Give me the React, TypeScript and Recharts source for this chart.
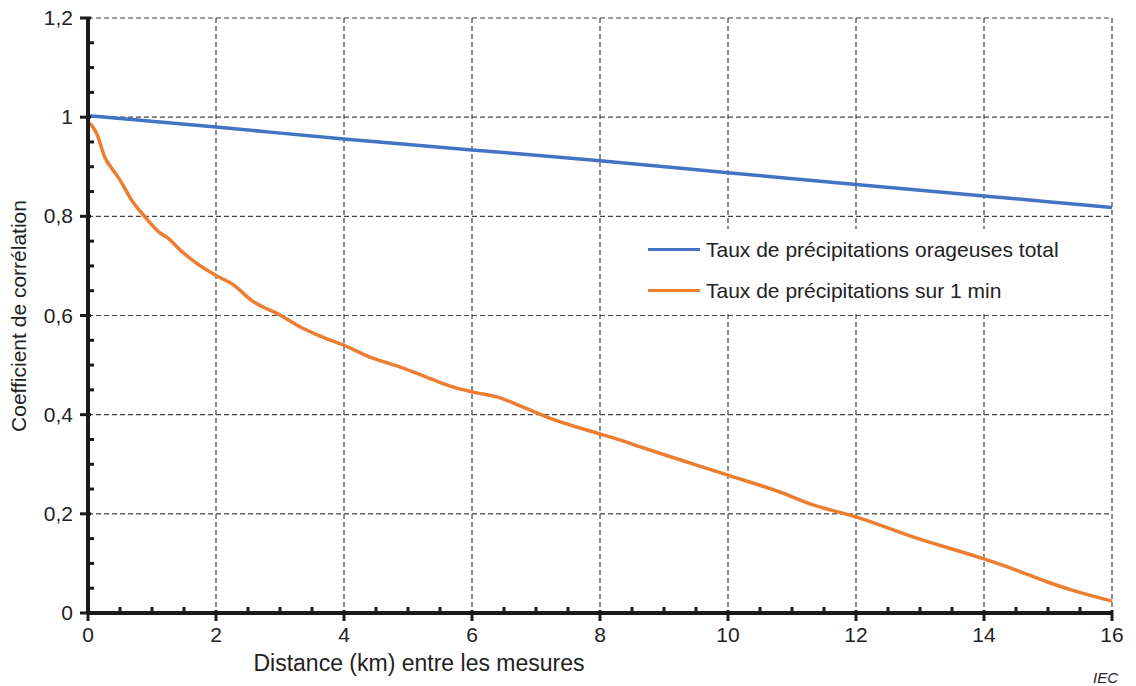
import { LineChart, Line, XAxis, YAxis, CartesianGrid } from "recharts";

const BLUE_KM = [0, 2, 4, 6, 8, 10, 12, 14, 16];
const BLUE_R = [1.003, 0.98, 0.956, 0.934, 0.912, 0.888, 0.864, 0.841, 0.818];

const ORANGE_KM = [
  0.03, 0.135, 0.27, 0.37, 0.5, 0.68, 0.89, 1.1, 1.25, 1.44, 1.7, 1.98, 2.27, 2.56, 3.0, 3.26,
  3.6, 3.98, 4.45, 4.88, 5.4, 5.7, 6.0, 6.44, 6.64, 7.17, 8.0, 8.31, 8.63, 9.25, 10.0, 10.81,
  11.33, 12.0, 12.9, 14.0, 14.45, 14.98, 15.4, 16.0,
];
const ORANGE_R = [
  0.988, 0.967, 0.917, 0.897, 0.873, 0.833, 0.799, 0.769, 0.756, 0.732, 0.705, 0.682, 0.662, 0.63,
  0.601, 0.581, 0.56, 0.541, 0.514, 0.496, 0.47, 0.456, 0.446, 0.434, 0.424, 0.395, 0.361, 0.349,
  0.335, 0.309, 0.278, 0.244, 0.218, 0.194, 0.153, 0.109, 0.089, 0.063, 0.045, 0.024,
];

const X_MAJOR = [0, 2, 4, 6, 8, 10, 12, 14, 16];
const X_MINOR = [
  0.5, 1, 1.5, 2.5, 3, 3.5, 4.5, 5, 5.5, 6.5, 7, 7.5, 8.5, 9, 9.5, 10.5, 11, 11.5, 12.5, 13, 13.5,
  14.5, 15, 15.5,
];
const Y_MAJOR = [0, 0.2, 0.4, 0.6, 0.8, 1, 1.2];
const Y_MINOR = [
  0.05, 0.1, 0.15, 0.25, 0.3, 0.35, 0.45, 0.5, 0.55, 0.65, 0.7, 0.75, 0.85, 0.9, 0.95, 1.05, 1.1,
  1.15,
];

const NAMES = ["Taux de précipitations orageuses total", "Taux de précipitations sur 1 min"];
const COLORS = ["#4472C4", "#ED7D31"];

const blueData = BLUE_KM.map((d, i) => ({ d, r: BLUE_R[i] }));
const orangeData = ORANGE_KM.map((d, i) => ({ d, r: ORANGE_R[i] }));
const xTicks = [...X_MAJOR, ...X_MINOR].sort((a, b) => a - b);
const yTicks = [...Y_MAJOR, ...Y_MINOR].sort((a, b) => a - b);

const FONT = "'Liberation Sans', Arial, sans-serif";
const INK = "#1a1a1a";
const fmt = (v: number) => String(v).replace(".", ",");
const isMajor = (list: number[], v: number) => list.some((m) => Math.abs(m - v) < 1e-9);

const XTick = ({ x, y, payload }: any) =>
  isMajor(X_MAJOR, payload.value) ? (
    <g>
      <line x1={x} x2={x} y1={y - 3} y2={y + 8} stroke={INK} strokeWidth={3} />
      <text x={x} y={y + 29} textAnchor="middle" fontSize={21} fill="#222" fontFamily={FONT}>
        {fmt(payload.value)}
      </text>
    </g>
  ) : (
    <line x1={x} x2={x} y1={y} y2={y - 6} stroke={INK} strokeWidth={3} />
  );

const YTick = ({ x, y, payload }: any) =>
  isMajor(Y_MAJOR, payload.value) ? (
    <g>
      <line x1={x - 8} x2={x + 3} y1={y} y2={y} stroke={INK} strokeWidth={3} />
      <text x={x - 15} y={y + 7} textAnchor="end" fontSize={21} fill="#222" fontFamily={FONT}>
        {fmt(payload.value)}
      </text>
    </g>
  ) : (
    <line x1={x} x2={x + 6} y1={y} y2={y} stroke={INK} strokeWidth={3} />
  );

export default function App() {
  return (
    <div style={{ position: "relative", width: 1128, height: 686, marginTop: -8 }}>
      <LineChart
        width={1128}
        height={686}
        margin={{ top: 18, right: 24, left: 79, bottom: 72 }}
        style={{ overflow: "visible" }}
      >
        <CartesianGrid
          stroke="#444"
          strokeDasharray="5 3"
          strokeWidth={1.2}
          horizontalValues={Y_MAJOR}
          verticalValues={X_MAJOR}
        />
        <XAxis
          type="number"
          dataKey="d"
          domain={[0, 16]}
          ticks={xTicks}
          interval={0}
          height={1}
          tickSize={0}
          tickMargin={0}
          tickLine={false}
          axisLine={{ stroke: INK, strokeWidth: 4 }}
          tick={<XTick />}
        />
        <YAxis
          type="number"
          domain={[0, 1.2]}
          ticks={yTicks}
          interval={0}
          width={1}
          tickSize={0}
          tickMargin={0}
          tickLine={false}
          axisLine={{ stroke: INK, strokeWidth: 4 }}
          tick={<YTick />}
        />
        <Line
          data={blueData}
          dataKey="r"
          name={NAMES[0]}
          type="monotone"
          stroke={COLORS[0]}
          strokeWidth={3.5}
          dot={false}
          isAnimationActive={false}
        />
        <Line
          data={orangeData}
          dataKey="r"
          name={NAMES[1]}
          type="monotone"
          stroke={COLORS[1]}
          strokeWidth={3.5}
          dot={false}
          isAnimationActive={false}
        />
      </LineChart>
      <div
        style={{
          position: "absolute",
          left: 640,
          top: 229,
          fontFamily: FONT,
          fontSize: 21,
          color: "#222",
          background: "#fff",
        }}
      >
        {NAMES.map((n, i) => (
          <div key={i} style={{ display: "flex", alignItems: "center", height: 41 }}>
            <div style={{ width: 52, height: 3, background: COLORS[i], marginRight: 6 }} />
            <span>{n}</span>
          </div>
        ))}
      </div>
      <div
        style={{
          position: "absolute",
          left: 11 - 200,
          top: 316 - 12,
          width: 400,
          lineHeight: "24px",
          textAlign: "center",
          transform: "rotate(-90deg)",
          fontFamily: FONT,
          fontSize: 21,
          color: "#222",
        }}
      >
        Coefficient de corrélation
      </div>
      <div
        style={{
          position: "absolute",
          left: 411 - 250,
          top: 651,
          width: 500,
          lineHeight: "24px",
          textAlign: "center",
          fontFamily: FONT,
          fontSize: 23,
          color: "#222",
        }}
      >
        Distance (km) entre les mesures
      </div>
      <div
        style={{
          position: "absolute",
          right: 18,
          top: 670,
          lineHeight: "16px",
          fontFamily: FONT,
          fontSize: 15,
          fontStyle: "italic",
          color: "#222",
        }}
      >
        IEC
      </div>
    </div>
  );
}
